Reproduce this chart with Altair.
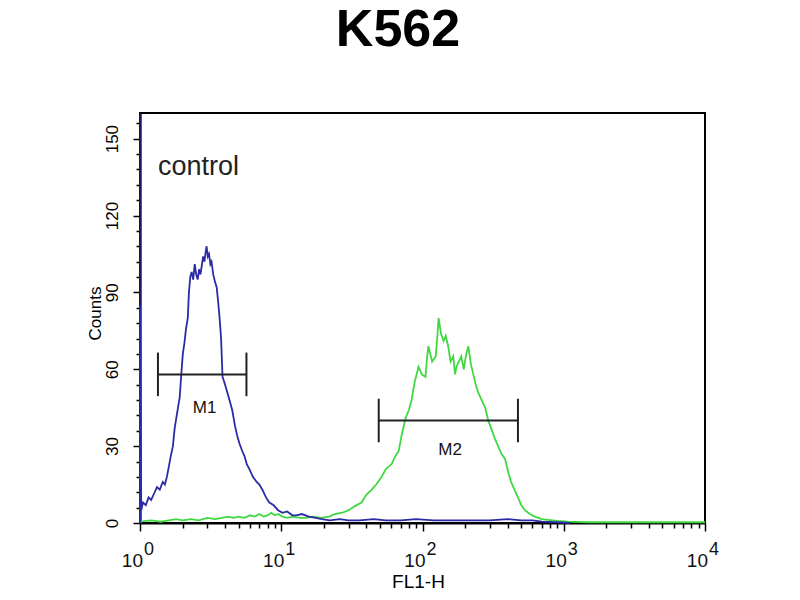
import altair as alt
import pandas as pd

# ---------------- data ----------------
title_text = ["K562"]

blue_x = [1.0, 1.0, 1.02, 1.05, 1.10, 1.15, 1.20, 1.27, 1.32, 1.38, 1.45, 1.50, 1.55, 1.60,
          1.65, 1.71, 1.76, 1.82, 1.87, 1.91, 1.96, 2.01, 2.06, 2.12, 2.18, 2.22, 2.27, 2.32,
          2.38, 2.44, 2.50, 2.56, 2.62, 2.68, 2.73, 2.80, 2.86, 2.92, 2.96, 3.02, 3.08, 3.15,
          3.21, 3.30, 3.40, 3.49, 3.58, 3.66, 3.75, 3.84, 3.95, 4.10, 4.30, 4.50, 4.70, 4.88,
          5.06, 5.30, 5.50, 5.70, 5.95, 6.3, 6.7, 7.0, 7.35, 7.8, 8.23, 8.8, 9.5, 10.2, 11.0,
          12.0, 12.8, 14.0, 15.7, 17.5, 19.4, 22, 26, 30, 36, 45, 55, 70, 90, 120, 160, 220,
          300, 400, 500, 600, 700, 900, 1100]
blue_y = [0, 85, 5, 8, 7, 10, 9, 12, 14, 13, 16, 15, 18, 22,
          26, 30, 37, 42, 46, 49, 58, 66, 70, 76, 80, 90, 96, 98,
          95, 101, 97, 95, 99, 97, 100, 104, 102, 106, 108, 104, 105, 101,
          102, 97, 94, 92, 86, 80, 72, 57, 55, 52, 48, 44, 38, 34,
          31, 28, 26, 23, 21, 18, 16, 15, 13, 10, 8, 7, 5, 4, 4.5,
          3, 3, 3.5, 2.5, 2, 1.5, 1, 1.5, 1, 1, 1.5, 1, 1, 1.5, 1, 1, 1,
          1, 1.5, 1, 1, 0.5, 0.3, 0]

green_x = [1.0, 1.2, 1.4, 1.6, 1.8, 2.0, 2.3, 2.6, 3.0, 3.4, 3.8, 4.2, 4.6, 5.0, 5.5, 6.0,
           6.5, 7.0, 7.5, 8.0, 8.5, 9.0, 9.5, 10.2, 11, 12, 13.5, 15, 17, 19, 21.8, 24, 27,
           30, 33, 37, 40, 43.7, 47, 51.4, 55, 60.5, 64, 67.8, 71, 75.9, 80, 83.7, 88, 93.7,
           99, 105, 108, 110, 117, 124, 127, 130, 135, 141, 146, 152, 158, 165, 170, 174, 181,
           188, 196, 204, 211, 220, 229, 238, 248, 262, 278, 292, 306, 325, 343, 362, 384,
           404, 424, 448, 474, 500, 531, 575, 625, 700, 771, 900, 1067, 1500, 3000, 10000]
green_y = [0.5, 1, 0.5, 1, 1.5, 1, 1.5, 1, 2, 1.5, 2, 2.5, 2, 2.5, 2, 3,
           2.5, 3.5, 2.5, 3, 4, 3, 3.5, 2.5, 2, 2.5, 2, 2, 2.5, 2, 2.5, 3.5, 4,
           5, 6.5, 8, 11, 13, 15, 18, 21, 23, 26, 28, 34, 41, 44, 48, 55, 61,
           58, 57, 65, 69, 63, 65, 72, 80, 74, 71, 73, 69, 63, 65, 58, 61, 63,
           65, 60, 66, 69, 62, 58, 54, 51, 48, 45, 40, 37, 33, 30, 27, 25,
           20, 16, 13, 10, 7, 5, 3.5, 2.5, 1.5, 1.2, 0.8, 0.5, 0.3, 0.3, 0.3]

marker_names = ["M1", "M2"]
marker_x1 = [1.34, 49]
marker_x2 = [5.67, 474]
marker_y = [58, 40]
marker_label_x = [2.87, 157]
marker_label_y = [45, 28.5]

annotation_text = ["control"]
annotation_x = [1.34]
annotation_y = [136]

decades = [1, 10, 100, 1000, 10000]
decade_base = ["10", "10", "10", "10", "10"]
decade_exp = ["0", "1", "2", "3", "4"]
minor_ticks = [2, 3, 4, 5, 6, 7, 8, 9,
               20, 30, 40, 50, 60, 70, 80, 90,
               200, 300, 400, 500, 600, 700, 800, 900,
               2000, 3000, 4000, 5000, 6000, 7000, 8000, 9000]
y_ticks = [0, 6, 12, 18, 24, 30, 36, 42, 48, 54, 60, 66, 72, 78, 84, 90, 96, 102, 108,
           114, 120, 126, 132, 138, 144, 150, 156]

x_title = "FL1-H"
y_title = "Counts"

# ---------------- tables ----------------
blue = pd.DataFrame({"x": blue_x, "y": blue_y, "i": range(len(blue_x))})
green = pd.DataFrame({"x": green_x, "y": green_y, "i": range(len(green_x))})
markers = pd.DataFrame({"name": marker_names, "x": marker_x1, "x2": marker_x2, "y": marker_y})
caps = pd.DataFrame({"x": marker_x1 + marker_x2, "y": marker_y + marker_y})
marker_labels = pd.DataFrame({"x": marker_label_x, "y": marker_label_y, "t": marker_names})
annot = pd.DataFrame({"x": annotation_x, "y": annotation_y, "t": annotation_text})
dec = pd.DataFrame({"x": decades, "base": decade_base, "exp": decade_exp})
title_df = pd.DataFrame({"t": title_text})

# ---------------- styling ----------------
W, H = 565, 410
FONT = "Liberation Sans"
BLUE = "#2b2ba6"
GREEN = "#40d840"

xscale = alt.Scale(type="log", domain=[1, 10000], nice=False)
yscale = alt.Scale(domain=[0, 160], nice=False, zero=True)

x_axis = alt.Axis(
    values=decades + minor_ticks,
    labels=False,
    tickSize={"condition": {"test": "indexof([1,10,100,1000,10000], datum.value) >= 0", "value": 8}, "value": 5},
    tickColor="black", tickWidth=1.5,
    domainColor="black", domainWidth=2,
    grid=False,
    title=x_title, titleFont=FONT, titleFontSize=19, titleFontWeight="normal",
    titleX=278, titleY=64, titleBaseline="alphabetic", titleAlign="center", titleColor="black",
)
y_axis = alt.Axis(
    values=y_ticks,
    labelExpr="indexof([0,30,60,90,120,150], datum.value) >= 0 ? datum.label : ''",
    tickSize={"condition": {"test": "indexof([0,30,60,90,120,150], datum.value) >= 0", "value": 7}, "value": 4},
    tickColor="black", tickWidth=1.5,
    domainColor="#1c1c60", domainWidth=2.5,
    labelAngle=270, labelAlign="center", labelBaseline="alphabetic", labelPadding=16,
    labelFont=FONT, labelFontSize=17, labelColor="black",
    grid=False,
    title=y_title, titleFont=FONT, titleFontSize=17, titleFontWeight="normal",
    titleAngle=270, titleX=-40, titleY=200, titleBaseline="alphabetic", titleAlign="center",
    titleColor="black",
)

X = alt.X("x:Q", scale=xscale, axis=x_axis)
Y = alt.Y("y:Q", scale=yscale, axis=y_axis)

green_line = alt.Chart(green).mark_line(color=GREEN, strokeWidth=1.8).encode(
    x=X, y=Y, order=alt.Order("i:Q"))
blue_line = alt.Chart(blue).mark_line(color=BLUE, strokeWidth=1.8).encode(
    x=X, y=Y, order=alt.Order("i:Q"))

bars = alt.Chart(markers).mark_rule(color="#222222", strokeWidth=2).encode(
    x=X, x2="x2:Q", y=Y)
cap_rules = alt.Chart(caps).transform_calculate(
    lo="datum.y - 8.5", hi="datum.y + 8.5"
).mark_rule(color="#222222", strokeWidth=2).encode(
    x=X, y=alt.Y("lo:Q", scale=yscale, axis=y_axis), y2="hi:Q")
mlabels = alt.Chart(marker_labels).mark_text(
    font=FONT, fontSize=17, color="#111111", align="center", baseline="middle"
).encode(x=X, y=Y, text="t:N")
annot_text = alt.Chart(annot).mark_text(
    font=FONT, fontSize=27, color="#222222", align="left", baseline="alphabetic"
).encode(x=X, y=Y, text="t:N")

tick_base = alt.Chart(dec).mark_text(
    font=FONT, fontSize=19, color="#111111", align="right", baseline="alphabetic", dx=3
).encode(x=X, y=alt.value(H + 44), text="base:N")
tick_exp = alt.Chart(dec).mark_text(
    font=FONT, fontSize=18, color="#111111", align="left", baseline="alphabetic", dx=4
).encode(x=X, y=alt.value(H + 32), text="exp:N")

title_mark = alt.Chart(title_df).mark_text(
    font=FONT, fontSize=52, fontWeight="bold", color="black", align="center", baseline="alphabetic"
).encode(x=alt.value(258), y=alt.value(-67), text="t:N")

chart = alt.layer(
    green_line, blue_line, bars, cap_rules, mlabels, annot_text, tick_base, tick_exp, title_mark
).properties(
    width=W, height=H,
    autosize="none",
    padding={"left": 132, "top": 105, "right": 70, "bottom": 75},
    background="white",
).configure_view(stroke="black", strokeWidth=2)

chart.save("out.html", embed_options={"renderer": "svg", "actions": False})
